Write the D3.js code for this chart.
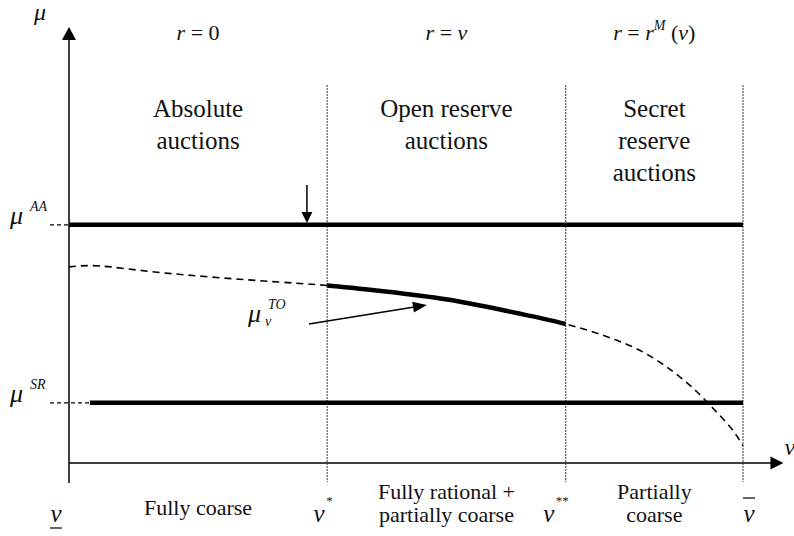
<!DOCTYPE html>
<html><head><meta charset="utf-8">
<script src="https://cdn.jsdelivr.net/npm/d3@7"></script>
<style>
body{margin:0;background:#fff}
</style>
</head><body>
<svg id="c" width="794" height="536"></svg>
<script>
// ---------- data ----------
const regionBounds = [0, 0.383, 0.737, 1.0];          // v_low, v*, v**, v_bar
const vAxisMax = 1.06;
const muAxisMin = -0.046, muAxisMax = 1.0;
const muAA = 0.55;
const muSR = 0.139;
const srStart = 0.031;
const curveV  = [0, 0.046, 0.135, 0.283, 0.383, 0.47, 0.559, 0.65, 0.737, 0.81, 0.852, 0.881, 0.907, 0.932, 0.955, 0.981, 1.0];
const curveMu = [0.453, 0.455, 0.440, 0.421, 0.410, 0.396, 0.378, 0.351, 0.321, 0.285, 0.256, 0.228, 0.198, 0.164, 0.127, 0.083, 0.040];
const reserveRules = [
  [{t:"r",i:1},{t:" = "},{t:"0"}],
  [{t:"r",i:1},{t:" = "},{t:"v",i:1}],
  [{t:"r",i:1},{t:" = "},{t:"r",i:1},{t:"M",i:1,sup:1},{t:" ("},{t:"v",i:1},{t:")"}]
];
const auctionLabels = [["Absolute","auctions"],["Open reserve","auctions"],["Secret","reserve","auctions"]];
const bidderLabels = [["Fully coarse"],["Fully rational +","partially coarse"],["Partially","coarse"]];
const boundaryLabels = [{sup:"", mark:"under"},{sup:"*", mark:""},{sup:"**", mark:""},{sup:"", mark:"over"}];
const dottedTop = 0.873, dottedBottom = -0.044;
const aaArrow = {v:0.353, from:0.642, to:0.554};
const toArrow = {v0:0.356, mu0:0.321, v1:0.531, mu1:0.365};

// ---------- setup ----------
const FONT = "'Liberation Serif','Times New Roman','DejaVu Serif','Noto Serif',serif";
const svg = d3.select("#c");
const x = d3.scaleLinear().domain([0, 1]).range([69, 743]);
const y = d3.scaleLinear().domain([0, 1]).range([463, 30]);

function txt(xx, yy, size){
  return svg.append("text").attr("x", xx).attr("y", yy).attr("font-size", size)
    .attr("font-family", FONT).attr("fill", "#111");
}
function arrowHead(tx, ty, dx, dy, len, wid){
  const n = Math.hypot(dx, dy); const ux = dx/n, uy = dy/n;
  const bx = tx - ux*len, by = ty - uy*len;
  const px = -uy*wid/2, py = ux*wid/2;
  svg.append("path").attr("d", `M${tx},${ty}L${bx+px},${by+py}L${bx-px},${by-py}Z`).attr("fill","#000");
}

// axes
svg.append("line").attr("x1", x(0)).attr("x2", x(0)).attr("y1", y(muAxisMin)).attr("y2", y(muAxisMax)+8)
  .attr("stroke","#000").attr("stroke-width",1.5);
arrowHead(x(0), y(muAxisMax)-3, 0, -1, 13, 14);
svg.append("line").attr("x1", x(0)).attr("x2", x(vAxisMax)-10).attr("y1", y(0)).attr("y2", y(0))
  .attr("stroke","#000").attr("stroke-width",1.5);
arrowHead(x(vAxisMax), y(0), 1, 0, 13, 13);

// dotted region boundaries
svg.selectAll("line.bound").data(regionBounds.slice(1)).enter().append("line")
  .attr("x1", d=>x(d)).attr("x2", d=>x(d)).attr("y1", y(dottedTop)).attr("y2", y(dottedBottom))
  .attr("stroke","#333").attr("stroke-width",1).attr("stroke-dasharray","2,1");

// dashed guides at the y axis
svg.append("line").attr("x1", x(0)-19).attr("x2", x(0)).attr("y1", y(muAA)).attr("y2", y(muAA))
  .attr("stroke","#000").attr("stroke-width",1.2).attr("stroke-dasharray","4,3");
svg.append("line").attr("x1", x(0)-19).attr("x2", x(srStart)).attr("y1", y(muSR)).attr("y2", y(muSR))
  .attr("stroke","#000").attr("stroke-width",1.2).attr("stroke-dasharray","4,3");

// thick horizontal lines
svg.append("line").attr("x1", x(0)).attr("x2", x(regionBounds[3])).attr("y1", y(muAA)).attr("y2", y(muAA))
  .attr("stroke","#000").attr("stroke-width",4.5);
svg.append("line").attr("x1", x(srStart)).attr("x2", x(regionBounds[3])).attr("y1", y(muSR)).attr("y2", y(muSR))
  .attr("stroke","#000").attr("stroke-width",4.5);

// curve (one smooth path, clipped into dashed / solid parts)
const defs = svg.append("defs");
defs.append("clipPath").attr("id","cl1").append("rect")
  .attr("x", 0).attr("y", 0).attr("width", x(regionBounds[1])).attr("height", 536);
defs.append("clipPath").attr("id","cl2").append("rect")
  .attr("x", x(regionBounds[1])).attr("y", 0).attr("width", x(regionBounds[2]) - x(regionBounds[1])).attr("height", 536);
defs.append("clipPath").attr("id","cl3").append("rect")
  .attr("x", x(regionBounds[2])).attr("y", 0).attr("width", 794 - x(regionBounds[2])).attr("height", 536);
const pts = curveV.map((v,i)=>[v, curveMu[i]]);
const line = d3.line().x(d=>x(d[0])).y(d=>y(d[1])).curve(d3.curveNatural);
const dpath = line(pts);
svg.append("path").attr("d", dpath).attr("clip-path","url(#cl1)")
  .attr("fill","none").attr("stroke","#000").attr("stroke-width",1.6).attr("stroke-dasharray","7,5");
svg.append("path").attr("d", dpath).attr("clip-path","url(#cl3)")
  .attr("fill","none").attr("stroke","#000").attr("stroke-width",1.6).attr("stroke-dasharray","7,5");
svg.append("path").attr("d", dpath).attr("clip-path","url(#cl2)")
  .attr("fill","none").attr("stroke","#000").attr("stroke-width",4.5);

// arrows
svg.append("line").attr("x1", x(aaArrow.v)).attr("x2", x(aaArrow.v)).attr("y1", y(aaArrow.from)).attr("y2", y(aaArrow.to)-8)
  .attr("stroke","#000").attr("stroke-width",1.5);
arrowHead(x(aaArrow.v), y(aaArrow.to), 0, 1, 11, 11);
{
  const x0 = x(toArrow.v0), y0 = y(toArrow.mu0), x1 = x(toArrow.v1), y1 = y(toArrow.mu1);
  svg.append("line").attr("x1", x0).attr("y1", y0).attr("x2", x1-(x1-x0)*0.08).attr("y2", y1-(y1-y0)*0.08)
    .attr("stroke","#000").attr("stroke-width",1.5);
  arrowHead(x1, y1, x1-x0, y1-y0, 14, 11);
}

// ---------- text ----------
const mids = d3.pairs(regionBounds).map(([a,b])=>(a+b)/2);

// reserve rules
reserveRules.forEach((segs, k)=>{
  const t = txt(x(mids[k]), 40, 22).attr("text-anchor","middle").style("white-space","pre");
  segs.forEach((s, j)=>{
    const ts = t.append("tspan").text(s.t).attr("font-style", s.i ? "italic" : "normal");
    if (s.sup) ts.attr("font-size", 14).attr("dy", -10);
    else if (j > 0 && segs[j-1].sup) ts.attr("dy", 10);
  });
});

// auction labels
auctionLabels.forEach((lines,k)=>{
  lines.forEach((l,j)=>{
    txt(x(mids[k]), 117 + j*32, 25).attr("text-anchor","middle").text(l);
  });
});

// bidder labels
bidderLabels.forEach((lines,k)=>{
  const base = lines.length === 1 ? 515 : 499;
  lines.forEach((l,j)=>{
    txt(x(mids[k]), base + j*23, 22).attr("text-anchor","middle").text(l);
  });
});

// boundary labels
const bOffsets = [-13, -8, -17, 6];
boundaryLabels.forEach((b,k)=>{
  const cx = x(regionBounds[k]) + bOffsets[k];
  txt(cx, 522, 25).attr("text-anchor","middle").attr("font-style","italic").text("v");
  if (b.sup) txt(cx + 7, 505, 13).text(b.sup);
  if (b.mark === "under") {
    svg.append("line").attr("x1", cx-6).attr("x2", cx+6).attr("y1", 528).attr("y2", 528).attr("stroke","#000").attr("stroke-width",1.2);
  }
  if (b.mark === "over") {
    svg.append("line").attr("x1", cx-6).attr("x2", cx+6).attr("y1", 498).attr("y2", 498).attr("stroke","#000").attr("stroke-width",1.2);
  }
});

// axis names
txt(40, 20, 24).attr("text-anchor","middle").attr("font-style","italic").text("μ");
txt(x(vAxisMax)+1, 455, 24).attr("font-style","italic").text("v");

// mu labels
function muLabel(xx, yy, sup, sub){
  txt(xx, yy, 26).attr("font-style","italic").text("μ");
  if (sup) txt(xx+20, yy-13, 14).attr("font-style","italic").text(sup);
  if (sub) txt(xx+17, yy+4, 14).attr("font-style","italic").text(sub);
}
muLabel(10, y(muAA)-1, "AA");
muLabel(10, y(muSR)-1, "SR");
muLabel(248, 322, "TO", "v");
</script>
</body></html>
